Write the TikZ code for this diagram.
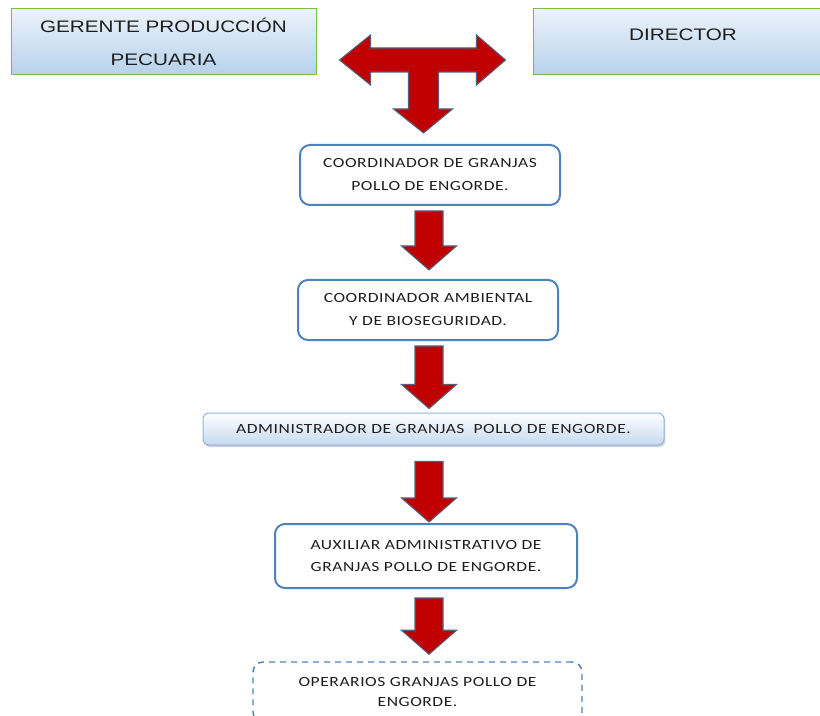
\documentclass[tikz,border=0pt]{standalone}
\usepackage{fontspec}
\usepackage{tikz}
\usetikzlibrary{calc, shadows}
\usepackage{xcolor}

\newfontfamily\arialf[FakeStretch=1.24]{Liberation Sans}
\newfontfamily\calif[FakeStretch=1.25,LetterSpace=4]{Carlito}

\definecolor{bordeazul}{RGB}{79,129,189}
\definecolor{bordeverde}{RGB}{120,190,70}
\definecolor{cieloarriba}{RGB}{236,243,250}
\definecolor{cieloabajo}{RGB}{182,209,235}
\definecolor{grisazul}{RGB}{149,179,215}
\definecolor{celeste}{RGB}{197,217,241}
\definecolor{rojoflecha}{RGB}{192,0,0}
\definecolor{contorno}{RGB}{85,95,125}
\definecolor{textogris}{RGB}{30,30,30}

% block arrow going down from one box to the next
\newcommand{\flecha}[4]{%
  \draw[redarrow] ($(eje|-#1.south)+(-14,#3)$) -- ($(eje|-#2.north)+(-14,-24-#4)$) -- ++(-13.5,0)
    -- ($(eje|-#2.north)+(0,-#4)$) -- ($(eje|-#2.north)+(27.5,-24-#4)$) -- ++(-13.5,0)
    -- ($(eje|-#1.south)+(14,#3)$) -- cycle;}

\begin{document}
\begin{tikzpicture}[
    x=0.75pt, y=-0.75pt,
    jefe/.style={rectangle, draw=bordeverde, line width=0.75pt, top color=cieloarriba, bottom color=cieloabajo, font=\arialf\fontsize{12.5}{24.75}\selectfont, text=textogris, align=center, minimum height=49.5pt, inner sep=0pt},
    cargo/.style={rectangle, draw=bordeazul, line width=1.5pt, fill=white, rounded corners=7.5pt, font=\calif\fontsize{10.5}{17.25}\selectfont, text=textogris, align=center, minimum width=195pt, minimum height=45pt, inner sep=0pt},
    barra/.style={rectangle, draw=grisazul, line width=0.75pt, top color=white, bottom color=celeste, rounded corners=4.5pt, font=\calif\fontsize{10.5}{12}\selectfont, text=textogris, minimum width=345.75pt, minimum height=24pt, inner sep=0pt, drop shadow={opacity=0.35, shadow xshift=1pt, shadow yshift=-1.5pt}},
    redarrow/.style={fill=rojoflecha, draw=contorno, line width=0.8pt, line join=miter}
]
\useasboundingbox (0,0) rectangle (820,716);

% Top level
\node[jefe, minimum width=228.75pt] (ger) at (163.5,42) {GERENTE PRODUCCIÓN\\PECUARIA};
\node[jefe, minimum width=225pt, text depth=10.5pt] (dir) at (683,42) {DIRECTOR};

% Boxes arranged vertically
\node[cargo] (coord) at (430,175) {COORDINADOR DE GRANJAS\\POLLO DE ENGORDE.};
\node[cargo] (amb) at (428,310) {COORDINADOR AMBIENTAL\\Y DE BIOSEGURIDAD.};
\node[barra] (admin) at (433.5,429) {ADMINISTRADOR DE GRANJAS \ POLLO DE ENGORDE.};
\node[cargo, minimum width=226.5pt, minimum height=48pt, font=\calif\fontsize{10.5}{16.5}\selectfont] (aux) at (426,556) {AUXILIAR ADMINISTRATIVO DE\\GRANJAS POLLO DE ENGORDE.};
\node[cargo, minimum width=246.75pt, line width=1.1pt, dash pattern=on 4.5pt off 3.75pt, font=\calif\fontsize{10.5}{15}\selectfont] (oper) at (417.5,692) {OPERARIOS GRANJAS POLLO DE\\ENGORDE.};

% T arrow between the two heads and the coordinator
\draw[redarrow] ($(ger.east)+(23,18)$) -- ++(31,-25) -- ++(0,13) -- ++(106,0) -- ++(0,-13) -- ++(29,25) -- ++(-29,25) -- ++(0,-13) -- ++(-38,0) -- ++(0,37) -- ++(14,0) -- ++(-29,24) -- ++(-30,-24) -- ++(15,0) -- ++(0,-37) -- ++(-38,0) -- ++(0,13) -- cycle;

% Arrows
\coordinate (eje) at (429,0);
\flecha{coord}{amb}{5}{9}
\flecha{amb}{admin}{5}{4}
\flecha{admin}{aux}{16}{1}
\flecha{aux}{oper}{9}{7}

\end{tikzpicture}
\end{document}
